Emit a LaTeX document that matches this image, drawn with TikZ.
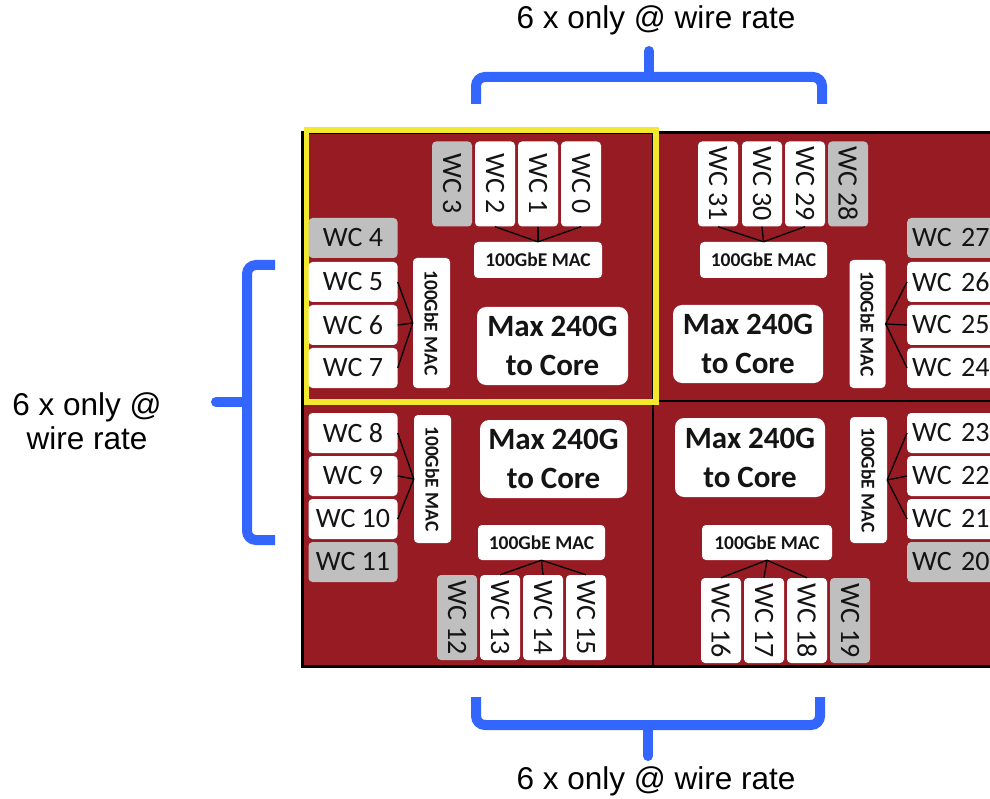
\documentclass[tikz,border=0pt]{standalone}
\usepackage{fontspec}
\usepackage{graphicx}
\setmainfont{Liberation Sans}
\newfontfamily\boxfont{Carlito}
\definecolor{chipred}{RGB}{151,27,35}
\definecolor{boxgray}{RGB}{191,191,191}
\definecolor{txt}{RGB}{20,20,20}
\definecolor{hiyellow}{RGB}{242,232,45}
\definecolor{braceblue}{RGB}{51,102,255}
\tikzset{
  wcw/.style={fill=white, rounded corners=4pt, inner sep=0pt, text=txt, font=\boxfont\fontsize{28}{30}\selectfont},
  wcg/.style={wcw, fill=boxgray},
  hbox/.style={minimum width=89pt, minimum height=40pt},
  vbox/.style={minimum width=40pt, minimum height=85pt},
  rbox/.style={minimum height=40pt, text width=80pt, align=left, inner xsep=5pt, anchor=west},
  macbox/.style={fill=white, rounded corners=4pt, inner sep=0pt, text=txt, font=\boxfont\bfseries\fontsize{19.5}{22}\selectfont},
  maxbox/.style={fill=white, rounded corners=9pt, inner sep=0pt, text=txt, align=center, font=\boxfont\bfseries\fontsize{31}{39}\selectfont},
  conn/.style={draw=black, line width=1.3pt},
  brace/.style={draw=braceblue, line width=10pt},
  lbl/.style={font=\fontsize{31.5}{31.5}\selectfont, text=black, inner sep=0pt}
}
\begin{document}
\begin{tikzpicture}[x=1pt,y=-1pt]
\useasboundingbox (0,0) rectangle (990,799);
% chip background
\draw[fill=chipred, draw=black, line width=3pt] (302,133) rectangle (1005,666);
\draw[black, line width=1.3pt] (653,133) -- (653,666);
\draw[black, line width=1.3pt] (302,401) -- (1005,401);
\draw[hiyellow, line width=5.5pt] (306.5,130) rectangle (656,402);

% ---------- top-left ----------
\node[wcg, vbox] (wc3) at (452,184) {\rotatebox{-90}{WC 3}};
\node[wcw, vbox] (wc2) at (495,184) {\rotatebox{-90}{WC 2}};
\node[wcw, vbox] (wc1) at (538,184) {\rotatebox{-90}{WC 1}};
\node[wcw, vbox] (wc0) at (581,184) {\rotatebox{-90}{WC 0}};
\node[macbox, minimum width=128pt, minimum height=36pt] (macT1) at (538,260) {100GbE MAC};
\node[wcg, hbox] (wc4) at (353,238) {WC 4};
\node[wcw, hbox] (wc5) at (353,282) {WC 5};
\node[wcw, hbox] (wc6) at (353,325) {WC 6};
\node[wcw, hbox] (wc7) at (353,368) {WC 7};
\node[macbox, minimum width=37pt, minimum height=130pt] (macL1) at (431.5,323) {\rotatebox{-90}{100GbE MAC}};
\node[maxbox, minimum width=151pt, minimum height=78pt] (max1) at (552.5,346) {Max 240G\\to Core};
\draw[conn] (wc2.south) -- (macT1.north);
\draw[conn] (wc1.south) -- (macT1.north);
\draw[conn] (wc0.south) -- (macT1.north);
\draw[conn] (wc5.east) -- (macL1.west);
\draw[conn] (wc6.east) -- (macL1.west);
\draw[conn] (wc7.east) -- (macL1.west);

% ---------- top-right ----------
\node[wcw, vbox] (wc31) at (718,184) {\rotatebox{-90}{WC 31}};
\node[wcw, vbox] (wc30) at (762,184) {\rotatebox{-90}{WC 30}};
\node[wcw, vbox] (wc29) at (805,184) {\rotatebox{-90}{WC 29}};
\node[wcg, vbox] (wc28) at (848,184) {\rotatebox{-90}{WC 28}};
\node[macbox, minimum width=127pt, minimum height=36pt] (macT2) at (763.5,260) {100GbE MAC};
\node[wcg, rbox] (wc27) at (907,238) {WC 27};
\node[wcw, rbox] (wc26) at (907,282) {WC 26};
\node[wcw, rbox] (wc25) at (907,325) {WC 25};
\node[wcw, rbox] (wc24) at (907,368) {WC 24};
\node[macbox, minimum width=36pt, minimum height=128pt] (macR1) at (867.5,324) {\rotatebox{-90}{100GbE MAC}};
\node[maxbox, minimum width=150pt, minimum height=78pt] (max2) at (748,344) {Max 240G\\to Core};
\draw[conn] (wc31.south) -- (macT2.north);
\draw[conn] (wc30.south) -- (macT2.north);
\draw[conn] (wc29.south) -- (macT2.north);
\draw[conn] (macR1.east) -- (wc26.west);
\draw[conn] (macR1.east) -- (wc25.west);
\draw[conn] (macR1.east) -- (wc24.west);

% ---------- bottom-left ----------
\node[wcw, hbox] (wc8) at (353,433) {WC 8};
\node[wcw, hbox] (wc9) at (353,476) {WC 9};
\node[wcw, hbox] (wc10) at (353,519) {WC 10};
\node[wcg, hbox] (wc11) at (353,562) {WC 11};
\node[macbox, minimum width=37pt, minimum height=128pt] (macL2) at (432.5,479) {\rotatebox{-90}{100GbE MAC}};
\node[maxbox, minimum width=147pt, minimum height=78pt] (max3) at (553.5,459) {Max 240G\\to Core};
\node[macbox, minimum width=127pt, minimum height=35pt] (macB1) at (541.5,542.5) {100GbE MAC};
\node[wcg, vbox] (wc12) at (457,617.5) {\rotatebox{-90}{WC 12}};
\node[wcw, vbox] (wc13) at (500,617.5) {\rotatebox{-90}{WC 13}};
\node[wcw, vbox] (wc14) at (543,617.5) {\rotatebox{-90}{WC 14}};
\node[wcw, vbox] (wc15) at (586,617.5) {\rotatebox{-90}{WC 15}};
\draw[conn] (wc8.east) -- (macL2.west);
\draw[conn] (wc9.east) -- (macL2.west);
\draw[conn] (wc10.east) -- (macL2.west);
\draw[conn] (macB1.south) -- (wc13.north);
\draw[conn] (macB1.south) -- (wc14.north);
\draw[conn] (macB1.south) -- (wc15.north);

% ---------- bottom-right ----------
\node[maxbox, minimum width=150pt, minimum height=79pt] (max4) at (750,457.5) {Max 240G\\to Core};
\node[macbox, minimum width=37pt, minimum height=126pt] (macR2) at (868.5,480) {\rotatebox{-90}{100GbE MAC}};
\node[wcw, rbox] (wc23) at (907,433) {WC 23};
\node[wcw, rbox] (wc22) at (907,476) {WC 22};
\node[wcw, rbox] (wc21) at (907,519) {WC 21};
\node[wcg, rbox] (wc20) at (907,562) {WC 20};
\node[macbox, minimum width=130pt, minimum height=35pt] (macB2) at (767,542.5) {100GbE MAC};
\node[wcw, vbox] (wc16) at (721,620.5) {\rotatebox{-90}{WC 16}};
\node[wcw, vbox] (wc17) at (764,620.5) {\rotatebox{-90}{WC 17}};
\node[wcw, vbox] (wc18) at (807,620.5) {\rotatebox{-90}{WC 18}};
\node[wcg, vbox] (wc19) at (850,620.5) {\rotatebox{-90}{WC 19}};
\draw[conn] (macR2.east) -- (wc23.west);
\draw[conn] (macR2.east) -- (wc22.west);
\draw[conn] (macR2.east) -- (wc21.west);
\draw[conn] (macB2.south) -- (wc16.north);
\draw[conn] (macB2.south) -- (wc17.north);
\draw[conn] (macB2.south) -- (wc18.north);

% ---------- brackets ----------
\draw[brace, rounded corners=9pt] (476,104) |- (822,77) -- (822,104);
\draw[brace, line cap=round] (649,77) -- (649,51);
\draw[brace, rounded corners=9pt] (476,697) |- (820,725) -- (820,697);
\draw[brace, line cap=round] (648,725) -- (648,756);
\draw[brace, rounded corners=9pt] (275,265) -| (247,540) -- (275,540);
\draw[brace, line cap=round] (247,402) -- (216,402);

% ---------- labels ----------
\node[lbl] (ttop) at (656,20) {6 x only @ wire rate};
\node[lbl] (tbot) at (656,781) {6 x only @ wire rate};
\node[lbl] (tl1) at (87,407) {6 x only @};
\node[lbl] (tl2) at (87,438) {wire rate};
\end{tikzpicture}
\end{document}
